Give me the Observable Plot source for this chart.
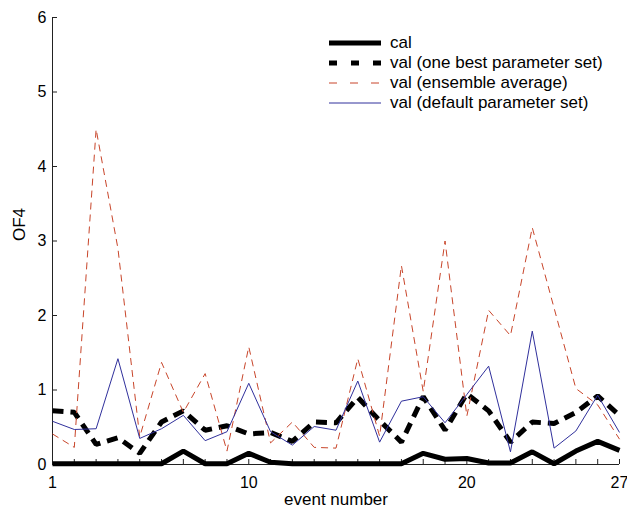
<!DOCTYPE html>
<html><head><meta charset="utf-8">
<script src="https://cdn.jsdelivr.net/npm/d3@7"></script>
<script src="https://cdn.jsdelivr.net/npm/@observablehq/plot@0.6"></script>
<style>
body{margin:0;background:#fff;}
#wrap{position:relative;width:627px;height:511px;font-family:"Liberation Sans",Arial,sans-serif;overflow:hidden;}
#legend{position:absolute;left:329px;top:33px;}
.row{display:flex;align-items:center;height:20px;font-size:17px;color:#000;white-space:nowrap;}
.row svg{margin-right:9px;display:block;}
</style></head><body><div id="wrap"><div id="legend"></div></div>
<script>
const events = d3.range(1, 28);
const xTickLabels = [1, 10, 20, 27];
const yTicks = [0, 1, 2, 3, 4, 5, 6];
const seriesNames = ["cal", "val (one best parameter set)", "val (ensemble average)", "val (default parameter set)"];
const cal      = [0.01,0.01,0.01,0.01,0.01,0.01,0.18,0.01,0.01,0.15,0.03,0.01,0.01,0.01,0.01,0.01,0.01,0.15,0.07,0.08,0.02,0.02,0.17,0.01,0.18,0.31,0.19];
const valBest  = [0.72,0.70,0.27,0.36,0.15,0.57,0.72,0.46,0.52,0.41,0.43,0.31,0.57,0.56,0.90,0.59,0.30,0.91,0.46,0.95,0.72,0.30,0.57,0.55,0.70,0.92,0.66];
const valEns   = [0.41,0.23,4.50,2.90,0.37,1.37,0.70,1.22,0.18,1.58,0.29,0.57,0.23,0.22,1.42,0.38,2.67,0.98,3.00,0.65,2.07,1.73,3.18,2.10,1.02,0.80,0.34];
const valDef   = [0.58,0.47,0.48,1.42,0.35,0.48,0.66,0.32,0.44,1.09,0.44,0.26,0.51,0.46,1.12,0.30,0.85,0.91,0.56,0.94,1.32,0.17,1.79,0.22,0.45,0.93,0.43];

const styles = [
  {stroke: "#000", strokeWidth: 5, dash: null, legendDash: null},
  {stroke: "#000", strokeWidth: 5, dash: "11,7", legendDash: "8,14"},
  {stroke: "#c8452a", strokeWidth: 1, dash: "7,5", legendDash: "8,13"},
  {stroke: "#30309c", strokeWidth: 1, dash: null, legendDash: null}
];
const allValues = [cal, valBest, valEns, valDef];

const lineMarks = allValues.map((vals, k) => Plot.line(
  events.map((e, i) => ({event: e, value: vals[i]})),
  {x: "event", y: "value", stroke: styles[k].stroke, strokeWidth: styles[k].strokeWidth,
   strokeDasharray: styles[k].dash, strokeLinecap: "butt", strokeLinejoin: "miter"}
));

const chart = Plot.plot({
  width: 627, height: 511,
  marginLeft: 52, marginRight: 8, marginTop: 17, marginBottom: 47,
  style: {fontFamily: "Liberation Sans, Arial, sans-serif", fontSize: "16px", color: "#000", background: "#fff", overflow: "visible"},
  x: {domain: [events[0], events[events.length - 1]]},
  y: {domain: [yTicks[0], yTicks[yTicks.length - 1]]},
  marks: [
    Plot.axisY(yTicks, {tickSize: -5, tickPadding: 11, label: null, stroke: "#222", fontSize: 16, tickFormat: d3.format("d")}),
    Plot.axisX(events, {tickSize: -5, tickFormat: () => "", label: null, stroke: "#222"}),
    Plot.axisX(xTickLabels, {tickSize: 0, tickPadding: 12, label: null, fontSize: 16, tickFormat: d3.format("d")}),
    Plot.ruleX([events[0]], {stroke: "#222"}),
    Plot.ruleY([yTicks[0]], {stroke: "#222"}),
    ...lineMarks,
    Plot.text(["OF4"], {frameAnchor: "left", dx: -33, rotate: -90, fontSize: 17}),
    Plot.text(["event number"], {frameAnchor: "bottom", dy: 40, fontSize: 17})
  ]
});
document.getElementById("wrap").prepend(chart);

const legend = document.getElementById("legend");
seriesNames.forEach((name, k) => {
  const row = document.createElement("div");
  row.className = "row";
  const s = styles[k];
  row.innerHTML = `<svg width="52" height="20"><line x1="0" x2="52" y1="10" y2="10" stroke="${s.stroke}" stroke-width="${s.strokeWidth}" ${s.legendDash ? `stroke-dasharray="${s.legendDash}"` : ""}/></svg><span>${name}</span>`;
  legend.appendChild(row);
});
</script></body></html>
